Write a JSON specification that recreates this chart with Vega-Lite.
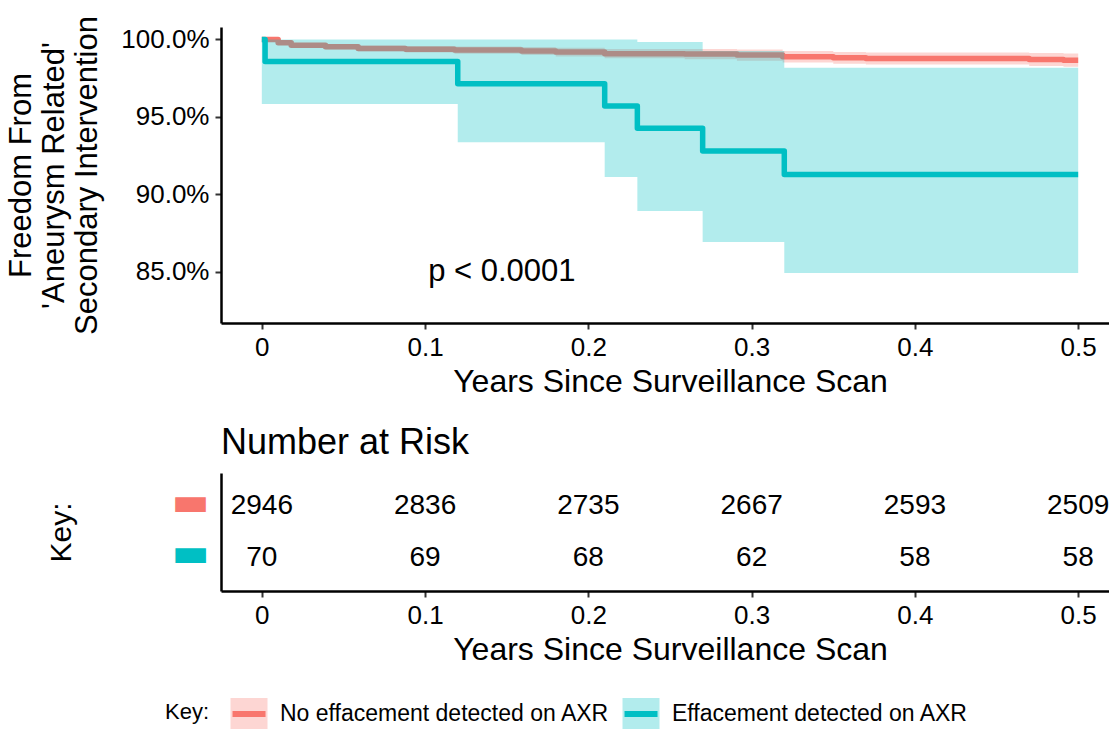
{
  "$schema": "https://vega.github.io/schema/vega-lite/v6.json",
  "background": "white",
  "padding": {"left": 5, "top": 15, "right": 0, "bottom": 0},
  "spacing": 28,
  "config": {
    "font": "Liberation Sans",
    "view": {"stroke": null},
    "axis": {
      "grid": false,
      "domainColor": "black",
      "domainWidth": 2.5,
      "tickColor": "#333333",
      "tickWidth": 2,
      "tickSize": 6,
      "labelColor": "black",
      "labelFontSize": 26,
      "labelPadding": 5,
      "titleColor": "black",
      "titleFontSize": 32,
      "titleFontWeight": "normal"
    },
    "legend": {
      "orient": "none",
      "legendX": -56,
      "legendY": 668,
      "direction": "horizontal",
      "titleOrient": "left",
      "titleAnchor": "middle",
      "titleBaseline": "alphabetic",
      "titleFontSize": 22,
      "titleFontWeight": "normal",
      "titleColor": "black",
      "titlePadding": 20,
      "labelFontSize": 23,
      "labelColor": "black",
      "labelLimit": 0,
      "labelOffset": 12,
      "columnPadding": 0,
      "symbolType": "M-1.03,0H1.156V-1H-1.156V1H1.156V0",
      "symbolSize": 1024,
      "symbolStrokeWidth": 6,
      "symbolDash": [33, 2000]
    },
    "title": {"fontWeight": "normal", "color": "black"}
  },
  "datasets": {
    "km": [
      {"group": "No effacement detected on AXR", "t": 0, "surv": 100.0, "lower": 99.97, "upper": 100.0},
      {"group": "No effacement detected on AXR", "t": 0.01, "surv": 99.78, "lower": 99.68, "upper": 99.88},
      {"group": "No effacement detected on AXR", "t": 0.018, "surv": 99.63, "lower": 99.5, "upper": 99.76},
      {"group": "No effacement detected on AXR", "t": 0.039, "surv": 99.52, "lower": 99.37, "upper": 99.67},
      {"group": "No effacement detected on AXR", "t": 0.059, "surv": 99.42, "lower": 99.24, "upper": 99.6},
      {"group": "No effacement detected on AXR", "t": 0.088, "surv": 99.37, "lower": 99.16, "upper": 99.58},
      {"group": "No effacement detected on AXR", "t": 0.118, "surv": 99.31, "lower": 99.08, "upper": 99.54},
      {"group": "No effacement detected on AXR", "t": 0.159, "surv": 99.25, "lower": 98.99, "upper": 99.51},
      {"group": "No effacement detected on AXR", "t": 0.18, "surv": 99.18, "lower": 98.9, "upper": 99.46},
      {"group": "No effacement detected on AXR", "t": 0.21, "surv": 99.08, "lower": 98.78, "upper": 99.38},
      {"group": "No effacement detected on AXR", "t": 0.259, "surv": 99.05, "lower": 98.72, "upper": 99.38},
      {"group": "No effacement detected on AXR", "t": 0.291, "surv": 98.99, "lower": 98.63, "upper": 99.35},
      {"group": "No effacement detected on AXR", "t": 0.319, "surv": 98.88, "lower": 98.51, "upper": 99.25},
      {"group": "No effacement detected on AXR", "t": 0.35, "surv": 98.81, "lower": 98.43, "upper": 99.19},
      {"group": "No effacement detected on AXR", "t": 0.37, "surv": 98.77, "lower": 98.38, "upper": 99.16},
      {"group": "No effacement detected on AXR", "t": 0.47, "surv": 98.71, "lower": 98.29, "upper": 99.13},
      {"group": "No effacement detected on AXR", "t": 0.491, "surv": 98.66, "lower": 98.23, "upper": 99.09},
      {"group": "No effacement detected on AXR", "t": 0.5, "surv": 98.66, "lower": 98.23, "upper": 99.09},
      {"group": "Effacement detected on AXR", "t": 0, "surv": 100.0, "lower": 95.83, "upper": 100.0},
      {"group": "Effacement detected on AXR", "t": 0.002, "surv": 98.57, "lower": 95.83, "upper": 100.0},
      {"group": "Effacement detected on AXR", "t": 0.12, "surv": 97.14, "lower": 93.37, "upper": 100.0},
      {"group": "Effacement detected on AXR", "t": 0.21, "surv": 95.71, "lower": 91.12, "upper": 100.0},
      {"group": "Effacement detected on AXR", "t": 0.23, "surv": 94.27, "lower": 88.92, "upper": 99.83},
      {"group": "Effacement detected on AXR", "t": 0.27, "surv": 92.8, "lower": 86.92, "upper": 99.25},
      {"group": "Effacement detected on AXR", "t": 0.32, "surv": 91.28, "lower": 84.92, "upper": 98.17},
      {"group": "Effacement detected on AXR", "t": 0.5, "surv": 91.28, "lower": 84.92, "upper": 98.17}
    ],
    "risk": [
      {"group": "No effacement detected on AXR", "t": 0, "n": 2946},
      {"group": "No effacement detected on AXR", "t": 0.1, "n": 2836},
      {"group": "No effacement detected on AXR", "t": 0.2, "n": 2735},
      {"group": "No effacement detected on AXR", "t": 0.3, "n": 2667},
      {"group": "No effacement detected on AXR", "t": 0.4, "n": 2593},
      {"group": "No effacement detected on AXR", "t": 0.5, "n": 2509},
      {"group": "Effacement detected on AXR", "t": 0, "n": 70},
      {"group": "Effacement detected on AXR", "t": 0.1, "n": 69},
      {"group": "Effacement detected on AXR", "t": 0.2, "n": 68},
      {"group": "Effacement detected on AXR", "t": 0.3, "n": 62},
      {"group": "Effacement detected on AXR", "t": 0.4, "n": 58},
      {"group": "Effacement detected on AXR", "t": 0.5, "n": 58}
    ],
    "pval": [
      {"t": 0.147, "surv": 85.0, "label": "p < 0.0001"}
    ]
  },
  "vconcat": [
    {
      "width": 898,
      "height": 296,
      "encoding": {
        "x": {
          "field": "t", "type": "quantitative",
          "scale": {"domain": [-0.025, 0.525], "nice": false, "zero": false},
          "axis": {"values": [0, 0.1, 0.2, 0.3, 0.4, 0.5], "format": "~g", "title": "Years Since Surveillance Scan", "titlePadding": 6}
        }
      },
      "layer": [
        {
          "data": {"name": "km"},
          "mark": {"type": "line", "interpolate": "step-after", "strokeWidth": 5.5, "strokeJoin": "round"},
          "encoding": {
            "y": {
              "field": "surv", "type": "quantitative",
              "scale": {"domain": [81.7, 100.8], "nice": false, "zero": false},
              "axis": {
                "values": [85, 90, 95, 100],
                "labelExpr": "format(datum.value, '.1f') + '%'",
                "labelPadding": 6,
                "title": ["Freedom From", "'Aneurysm Related'", "Secondary Intervention"],
                "titleFontSize": 31,
                "titleLineHeight": 33,
                "titlePadding": 17
              }
            },
            "stroke": {
              "field": "group", "type": "nominal",
              "scale": {"domain": ["No effacement detected on AXR", "Effacement detected on AXR"], "range": ["#F8766D", "#00BFC4"]},
              "legend": {
                "title": "Key:",
                "encode": {
                  "symbols": {
                    "update": {
                      "fill": {"scale": "fill", "field": "value"},
                      "fillOpacity": {"value": 0.3},
                      "stroke": {"scale": "stroke", "field": "value"},
                      "strokeWidth": {"value": 6},
                      "strokeDash": {"value": [33, 2000]},
                      "opacity": {"value": 1}
                    }
                  }
                }
              }
            }
          }
        },
        {
          "data": {"name": "km"},
          "mark": {"type": "area", "interpolate": "step-after", "fillOpacity": 0.3},
          "encoding": {
            "y": {"field": "lower", "type": "quantitative"},
            "y2": {"field": "upper"},
            "fill": {
              "field": "group", "type": "nominal",
              "scale": {"domain": ["No effacement detected on AXR", "Effacement detected on AXR"], "range": ["#F8766D", "#00BFC4"]},
              "legend": {
                "title": "Key:",
                "encode": {
                  "symbols": {
                    "update": {
                      "fill": {"scale": "fill", "field": "value"},
                      "fillOpacity": {"value": 0.3},
                      "stroke": {"scale": "stroke", "field": "value"},
                      "strokeWidth": {"value": 6},
                      "strokeDash": {"value": [33, 2000]},
                      "opacity": {"value": 1}
                    }
                  }
                }
              }
            }
          }
        },
        {
          "data": {"name": "pval"},
          "mark": {"type": "text", "fontSize": 31, "color": "black", "align": "center", "baseline": "middle"},
          "encoding": {
            "y": {"field": "surv", "type": "quantitative"},
            "text": {"field": "label"}
          }
        }
      ]
    },
    {
      "width": 898,
      "height": 118,
      "title": {"text": "Number at Risk", "anchor": "start", "frame": "group", "fontSize": 36, "offset": 11},
      "data": {"name": "risk"},
      "mark": {"type": "text", "fontSize": 28, "color": "black", "baseline": "middle"},
      "encoding": {
        "x": {
          "field": "t", "type": "quantitative",
          "scale": {"domain": [-0.025, 0.525], "nice": false, "zero": false},
          "axis": {"values": [0, 0.1, 0.2, 0.3, 0.4, 0.5], "format": "~g", "title": "Years Since Surveillance Scan", "titlePadding": 6}
        },
        "y": {
          "field": "group", "type": "nominal",
          "sort": ["No effacement detected on AXR", "Effacement detected on AXR"],
          "scale": {"type": "point", "padding": 0.635},
          "axis": {
            "title": "Key:",
            "titleFontSize": 30,
            "titlePadding": 95,
            "ticks": false,
            "labelExpr": "'▬'",
            "labelFont": "DejaVu Sans",
            "labelFontSize": 40,
            "labelPadding": 12,
            "labelOffset": -4,
            "labelColor": {"condition": {"test": "datum.value === 'No effacement detected on AXR'", "value": "#F8766D"}, "value": "#00BFC4"}
          }
        },
        "text": {"field": "n", "type": "quantitative"}
      }
    }
  ]
}
